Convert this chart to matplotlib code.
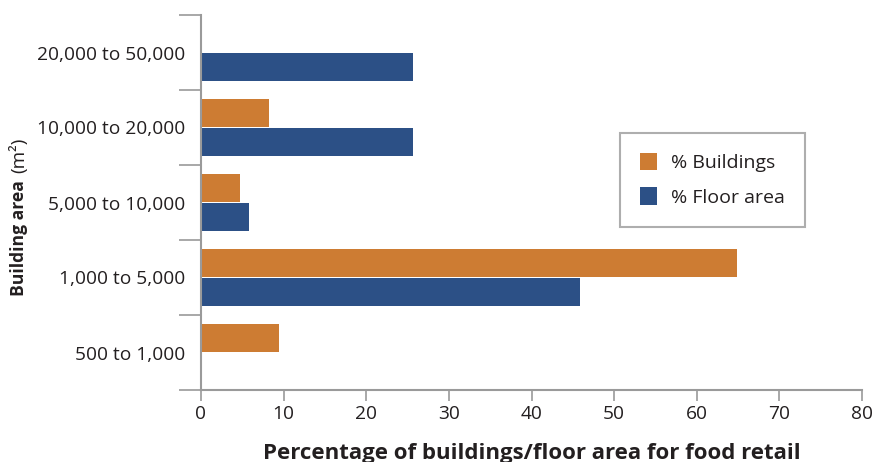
import numpy as np
import matplotlib
matplotlib.use("Agg")
import matplotlib.pyplot as plt

# categories listed bottom -> top
categories = ["500 to 1,000", "1,000 to 5,000", "5,000 to 10,000",
              "10,000 to 20,000", "20,000 to 50,000"]
pct_buildings = [9.4, 64.9, 4.7, 8.2, 0.0]
pct_floor = [0.0, 45.9, 5.8, 25.7, 25.7]
xticks = [0, 10, 20, 30, 40, 50, 60, 70, 80]

ORANGE = "#cd7c33"
BLUE = "#2c5086"
GRAY = "#9a9a9a"
TXT = "#231f20"

plt.rcParams["font.family"] = ["Open Sans", "DejaVu Sans"]

W, H = 874, 462
fig = plt.figure(figsize=(W / 100, H / 100), dpi=100)
ax = fig.add_axes([201 / W, 1 - 390 / H, (862 - 201) / W, (390 - 15) / H])

y = np.arange(len(categories))
h = 0.37
ax.barh(y + 0.193, pct_buildings, height=h, color=ORANGE, label="% Buildings")
ax.barh(y - 0.193, pct_floor, height=h, color=BLUE, label="% Floor area")

ax.set_xlim(0, 80)
ax.set_ylim(-0.5, len(categories) - 0.5)
ax.set_xticks(xticks)
ax.set_xticklabels([str(t) for t in xticks])
ax.set_yticks(y)
ax.set_yticklabels(categories)
ax.set_yticks(np.arange(len(categories) + 1) - 0.5, minor=True)

for s in ["top", "right"]:
    ax.spines[s].set_visible(False)
for s in ["left", "bottom"]:
    ax.spines[s].set_color(GRAY)
    ax.spines[s].set_linewidth(1.5)

ax.tick_params(axis="x", length=8, width=1.2, color=GRAY, labelsize=13.8,
               labelcolor=TXT, pad=3)
ax.tick_params(axis="y", which="major", length=0, labelsize=13.8,
               labelcolor=TXT, pad=11.5)
ax.tick_params(axis="y", which="minor", length=16, width=1.2, color=GRAY)

ax.set_xlabel("Percentage of buildings/floor area for food retail",
              fontsize=16, fontweight="bold", color=TXT, labelpad=14)

# y label: bold part + regular unit
fig.text(24 / W, 1 - 296 / H, "Building area", rotation=90,
         rotation_mode="anchor", ha="left", va="baseline",
         fontsize=12.6, fontweight="bold", color=TXT)
fig.text(24 / W, 1 - 173 / H, "(m²)", rotation=90,
         rotation_mode="anchor", ha="left", va="baseline",
         fontsize=13.6, color=TXT)

leg = ax.legend(loc="upper left", bbox_to_anchor=(620 / W, 1 - 133 / H),
                bbox_transform=fig.transFigure, frameon=True, fancybox=False,
                fontsize=14, handlelength=0.9, handleheight=1.0,
                handletextpad=0.72, labelspacing=0.78, borderpad=1.02,
                borderaxespad=0)
leg.get_frame().set_edgecolor(GRAY)
leg.get_frame().set_linewidth(1.5)
for t in leg.get_texts():
    t.set_color(TXT)

fig.savefig("out.png", dpi=100)
